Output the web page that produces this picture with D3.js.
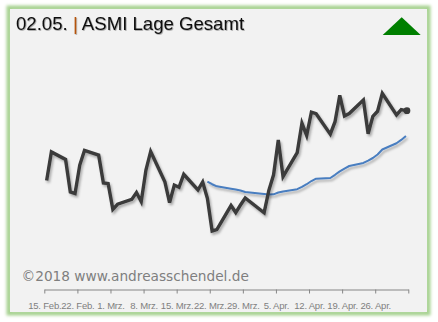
<!DOCTYPE html>
<html>
<head>
<meta charset="utf-8">
<script src="https://cdn.jsdelivr.net/npm/d3@7"></script>
<style>
  html, body { margin: 0; padding: 0; background: #ffffff; }
  svg { display: block; }
</style>
</head>
<body>
<svg id="chart" width="438" height="322"></svg>
<script>
// ASMI sentiment index (black) and its moving average (blue), trading days only
const dates = [
  "2018-02-15","2018-02-16","2018-02-19","2018-02-20","2018-02-21","2018-02-22","2018-02-23",
  "2018-02-26","2018-02-27","2018-02-28","2018-03-01","2018-03-02",
  "2018-03-05","2018-03-06","2018-03-07","2018-03-08","2018-03-09",
  "2018-03-12","2018-03-13","2018-03-14","2018-03-15","2018-03-16",
  "2018-03-19","2018-03-20","2018-03-21","2018-03-22","2018-03-23",
  "2018-03-26","2018-03-27","2018-03-28","2018-03-29",
  "2018-04-02","2018-04-03","2018-04-04","2018-04-05","2018-04-06",
  "2018-04-09","2018-04-10","2018-04-11","2018-04-12","2018-04-13",
  "2018-04-16","2018-04-17","2018-04-18","2018-04-19","2018-04-20",
  "2018-04-23","2018-04-24","2018-04-25","2018-04-26","2018-04-27",
  "2018-04-30","2018-05-01","2018-05-02"
];

const asmiValues = [
  43.4, 61.3, 56.6, 36.3, 35.3, 53.1, 62.2,
  59.3, 41.9, 41.6, 25.4, 28.6,
  31.6, 35.9, 30.2, 50.0, 61.6,
  42.7, 29.6, 40.6, 39.2, 47.3,
  37.5, 42.5, 32.3, 11.9, 12.8,
  27.8, 23.4, 28.1, 32.5,
  23.3, 37.2, 47.0, 68.8, 45.8,
  60.9, 79.2, 71.6, 86.1, 85.2,
  72.4, 80.2, 96.7, 83.8, 85.3,
  93.8, 72.6, 83.6, 86.7, 97.9,
  84.4, 87.8, 87.1
];

// moving average starts on 21 March (null = no value yet)
const avgValues = [
  null, null, null, null, null, null, null,
  null, null, null, null, null,
  null, null, null, null, null,
  null, null, null, null, null,
  null, null, 42.7, 41.1, 39.8,
  38.3, 37.8, 37.2, 36.3,
  35.0, 34.7, 34.8, 35.9, 36.6,
  38.0, 39.4, 41.1, 43.1, 44.6,
  45.0, 47.0, 49.1, 50.9, 52.5,
  54.4, 55.9, 57.5, 59.7, 62.8,
  66.7, 68.8, 71.3
];

const tickDates = [
  "2018-02-15","2018-02-22","2018-03-01","2018-03-08","2018-03-15","2018-03-22",
  "2018-03-29","2018-04-05","2018-04-12","2018-04-19","2018-04-26","2018-05-03"
];
const tickLabels = [
  "15. Feb.","22. Feb.","1. Mrz.","8. Mrz.","15. Mrz.","22. Mrz.",
  "29. Mrz.","5. Apr.","12. Apr.","19. Apr.","26. Apr."
];

const titleDate = "02.05.";
const titleText = "ASMI Lage Gesamt";
const credit = "\u00A92018 www.andreasschendel.de";

const parse = d3.utcParse("%Y-%m-%d");
const svg = d3.select("#chart");
const defs = svg.append("defs");

// soft green glow around the panel
const glow = defs.append("filter").attr("id", "glow")
  .attr("x", "-5%").attr("y", "-5%").attr("width", "110%").attr("height", "110%");
glow.append("feGaussianBlur").attr("stdDeviation", 1.8);

// drop shadow under the lines
const shadow = defs.append("filter").attr("id", "lineShadow")
  .attr("x", "-10%").attr("y", "-10%").attr("width", "120%").attr("height", "130%");
shadow.append("feDropShadow").attr("dx", 1.5).attr("dy", 2.2)
  .attr("stdDeviation", 1.3).attr("flood-color", "#000").attr("flood-opacity", 0.3);

// shadow for the title text
const tshadow = defs.append("filter").attr("id", "textShadow")
  .attr("x", "-5%").attr("y", "-20%").attr("width", "110%").attr("height", "150%");
tshadow.append("feDropShadow").attr("dx", 0.8).attr("dy", 0.8)
  .attr("stdDeviation", 0.7).attr("flood-color", "#000").attr("flood-opacity", 0.35);

// panel
svg.append("rect")
  .attr("x", 9).attr("y", 8).attr("width", 419).attr("height", 305)
  .attr("fill", "none").attr("stroke", "#a6d18f").attr("stroke-width", 5)
  .attr("filter", "url(#glow)");
svg.append("rect")
  .attr("x", 10).attr("y", 9).attr("width", 417).attr("height", 303)
  .attr("fill", "#f2f2f2");

// title
const title = svg.append("text")
  .attr("x", 16).attr("y", 29.5)
  .attr("font-family", "'Liberation Sans', Arial, sans-serif")
  .attr("font-size", 18.6)
  .attr("fill", "#111")
  .attr("filter", "url(#textShadow)");
title.append("tspan").text(titleDate + " ");
title.append("tspan").attr("fill", "#b5520f").text("|");
title.append("tspan").text(" " + titleText);

// trend arrow
svg.append("path")
  .attr("d", d3.line()([[382.7, 35], [420.7, 35], [401.7, 17.3]]) + "Z")
  .attr("fill", "#007f00");

// scales
const x = d3.scaleUtc()
  .domain([parse("2018-02-15"), parse("2018-05-03")])
  .range([44.3, 408.3]);
const y = d3.scaleLinear().domain([0, 100]).range([250, 90]);

// each trading day sits in the middle of its day slot
const xPos = d => x(d3.utcHour.offset(d, 12));

const pts = dates.map((d, i) => ({ date: parse(d), asmi: asmiValues[i], avg: avgValues[i] }));

// credit line
svg.append("text")
  .attr("x", 21.5).attr("y", 280.5)
  .attr("font-family", "'DejaVu Sans', sans-serif")
  .attr("font-size", 13.7)
  .attr("fill", "#7f7f7f")
  .text(credit);

// x axis
const axis = d3.axisBottom(x)
  .tickValues(tickDates.map(parse))
  .tickSize(4)
  .tickSizeOuter(0)
  .tickPadding(9)
  .tickFormat((d, i) => tickLabels[i] || "");

const gx = svg.append("g").attr("transform", "translate(0,289.5)").call(axis);
gx.select(".domain").attr("stroke", "#868686");
gx.selectAll(".tick line").attr("stroke", "#868686");
gx.selectAll(".tick text")
  .attr("font-family", "'Liberation Sans', Arial, sans-serif")
  .attr("font-size", 9.5)
  .attr("letter-spacing", -0.2)
  .attr("fill", "#7f7f7f");

// lines
const lineAsmi = d3.line().x(d => xPos(d.date)).y(d => y(d.asmi));
const lineAvg = d3.line().defined(d => d.avg != null).x(d => xPos(d.date)).y(d => y(d.avg));

svg.append("path")
  .datum(pts)
  .attr("d", lineAvg)
  .attr("fill", "none")
  .attr("stroke", "#4a7ec0")
  .attr("stroke-width", 2)
  .attr("stroke-linejoin", "round")
  .attr("filter", "url(#lineShadow)");

svg.append("path")
  .datum(pts)
  .attr("d", lineAsmi)
  .attr("fill", "none")
  .attr("stroke", "#3b3b3b")
  .attr("stroke-width", 3.4)
  .attr("stroke-linejoin", "miter")
  .attr("filter", "url(#lineShadow)");

// marker on the latest value
const last = pts[pts.length - 1];
svg.append("circle")
  .attr("cx", xPos(last.date) + 1).attr("cy", y(last.asmi)).attr("r", 3.4)
  .attr("fill", "#3b3b3b");
</script>
</body>
</html>
